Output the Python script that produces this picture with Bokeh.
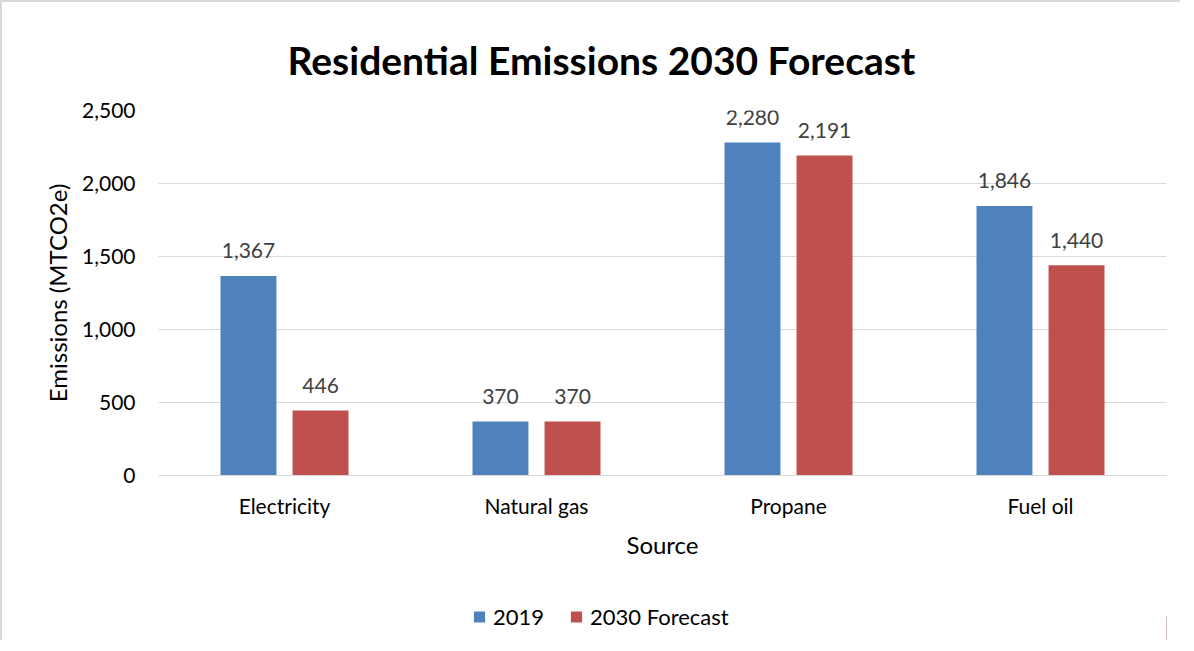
from bokeh.plotting import figure
from bokeh.layouts import column
from bokeh.models import FactorRange, Range1d, NumeralTickFormatter, Legend, LegendItem, ColumnDataSource
from bokeh.transform import dodge
from bokeh.embed import file_html
from bokeh.resources import INLINE

sources = ["Electricity", "Natural gas", "Propane", "Fuel oil"]
v2019 = [1367, 370, 2280, 1846]
v2030 = [446, 370, 2191, 1440]
series_names = ["2019", "2030 Forecast"]
y_ticks = [0, 500, 1000, 1500, 2000, 2500]

BLUE = "#4F81BD"
RED = "#C0504D"
FONT = "Lato"

src = ColumnDataSource(dict(
    source=sources,
    v2019=v2019,
    v2030=v2030,
    l2019=[f"{v:,}" for v in v2019],
    l2030=[f"{v:,}" for v in v2030],
))

p = figure(
    x_range=FactorRange(*sources),
    y_range=Range1d(0, 2500),
    width=1178, height=568,
    output_backend="svg", toolbar_location=None,
    min_border_left=156, min_border_right=14, min_border_top=108, min_border_bottom=95,
    title="Residential Emissions 2030 Forecast",
)

p.title.align = "left"
p.title.offset = 129
p.title.text_font = FONT
p.title.text_font_size = "39px"
p.title.text_font_style = "bold"
p.title.text_color = "#000000"
p.title.standoff = 55

off = 0.143
w = 0.222
r1 = p.vbar(x=dodge("source", -off, range=p.x_range), top="v2019", width=w, source=src,
            fill_color=BLUE, line_color=None)
r2 = p.vbar(x=dodge("source", off, range=p.x_range), top="v2030", width=w, source=src,
            fill_color=RED, line_color=None)

for col, lab, dx in [("v2019", "l2019", -off), ("v2030", "l2030", off)]:
    p.text(x=dodge("source", dx, range=p.x_range), y=col, text=lab, source=src,
           text_align="center", text_baseline="middle", y_offset=-25,
           text_font_size="21px", text_color="#404040", text_font={"value": FONT})

p.outline_line_color = None
p.xgrid.grid_line_color = None
p.ygrid.grid_line_color = "#d9d9d9"
p.ygrid.grid_line_width = 1

p.yaxis.ticker = y_ticks
p.yaxis.formatter = NumeralTickFormatter(format="0,0")
p.yaxis.axis_line_color = None
p.yaxis.major_tick_line_color = None
p.yaxis.minor_tick_line_color = None
p.yaxis.major_label_standoff = 17
p.yaxis.axis_label = "Emissions (MTCO2e)"
p.yaxis.axis_label_standoff = 7

p.xaxis.axis_line_color = "#d9d9d9"
p.xaxis.major_tick_line_color = None
p.xaxis.minor_tick_line_color = None
p.xaxis.major_label_standoff = 11
p.xaxis.axis_label = "Source"
p.xaxis.axis_label_standoff = 9

for ax in (p.xaxis[0], p.yaxis[0]):
    ax.major_label_text_font = FONT
    ax.major_label_text_font_size = "21px"
    ax.major_label_text_color = "#000000"
    ax.axis_label_text_font = FONT
    ax.axis_label_text_font_size = "24px"
    ax.axis_label_text_font_style = "normal"
    ax.axis_label_text_color = "#000000"

# legend strip below the chart (frame aligned with the main chart's frame)
lg = figure(width=1178, height=70, output_backend="svg", toolbar_location=None,
            x_range=Range1d(0, 1), y_range=Range1d(0, 1),
            min_border_left=156, min_border_right=14, min_border_top=22, min_border_bottom=0)
lg.axis.visible = False
lg.grid.visible = False
lg.outline_line_color = None
# swatch renderers kept outside the visible range; only their legend glyphs show
swatch = ColumnDataSource(dict(x=[5.0], top=[0.5]))
d1 = lg.vbar(x="x", top="top", width=0.1, source=swatch, fill_color=BLUE, line_color=None)
d2 = lg.vbar(x="x", top="top", width=0.1, source=swatch, fill_color=RED, line_color=None)
legend = Legend(items=[LegendItem(label=series_names[0], renderers=[d1]),
                       LegendItem(label=series_names[1], renderers=[d2])],
                orientation="horizontal", location="left")
legend.border_line_color = None
legend.background_fill_alpha = 0
legend.label_text_font = FONT
legend.label_text_font_size = "22px"
legend.label_text_color = "#000000"
legend.glyph_width = 14
legend.glyph_height = 14
legend.spacing = 25
legend.label_standoff = 7
legend.margin = 314
lg.add_layout(legend, "center")

layout = column(p, lg, spacing=0)
layout.styles = {"border-left": "2px solid #d9d9d9", "border-top": "2px solid #d9d9d9"}

open("out.html", "w").write(file_html(layout, INLINE))
